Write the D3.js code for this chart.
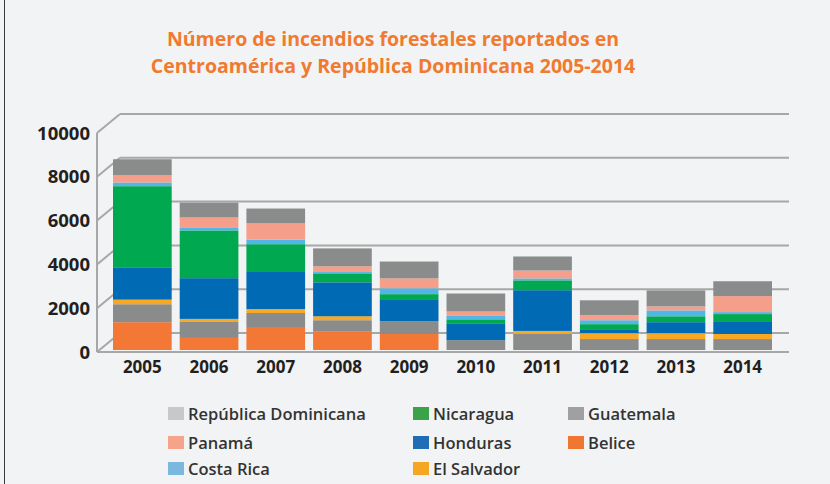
<!DOCTYPE html>
<html>
<head>
<meta charset="utf-8">
<script src="https://cdn.jsdelivr.net/npm/d3@7"></script>
<style>
	body { margin: 0; background: #f2f3f5; }
	svg { display: block; }
</style>
</head>
<body>
<div id="chart-area"></div>
<script>

// data (stack order bottom -> top)
let years = ["2005", "2006", "2007", "2008", "2009", "2010", "2011", "2012", "2013", "2014"];

let belice      = [1270, 550, 1050, 860, 730, 0, 0, 0, 0, 0];
let guatemala   = [820, 730, 640, 500, 590, 450, 730, 500, 500, 500];
let elSalvador  = [210, 140, 180, 180, 0, 0, 140, 270, 270, 230];
let honduras    = [1450, 1860, 1730, 1550, 1000, 770, 1860, 180, 500, 550];
let nicaragua   = [3730, 2180, 1230, 410, 230, 180, 450, 230, 270, 360];
let costaRica   = [170, 140, 210, 60, 270, 180, 90, 180, 270, 90];
let panama      = [330, 450, 740, 260, 450, 180, 360, 230, 180, 730];
let repDom      = [730, 680, 680, 820, 770, 820, 640, 680, 730, 680];

let seriesNames = ["Belice", "Guatemala", "El Salvador", "Honduras", "Nicaragua", "Costa Rica", "Panamá", "República Dominicana"];
let seriesValues = [belice, guatemala, elSalvador, honduras, nicaragua, costaRica, panama, repDom];

let yTicks = [0, 2000, 4000, 6000, 8000, 10000];

// legend, read row by row
let legendNames = ["República Dominicana", "Nicaragua", "Guatemala", "Panamá", "Honduras", "Belice", "Costa Rica", "El Salvador"];

// colours
let barColors = {
	"Belice": "#f37735",
	"Guatemala": "#8a8c8c",
	"El Salvador": "#f9a823",
	"Honduras": "#006bb4",
	"Nicaragua": "#00a84f",
	"Costa Rica": "#52b6e5",
	"Panamá": "#f59f8a",
	"República Dominicana": "#8a8c8c"
};
let legendColors = {
	"República Dominicana": "#c8c8ca",
	"Nicaragua": "#3aa34a",
	"Guatemala": "#a0a0a3",
	"Panamá": "#f7a38a",
	"Honduras": "#1f6db5",
	"Belice": "#f07732",
	"Costa Rica": "#7ab8e0",
	"El Salvador": "#f5a623"
};

let W = 830, H = 484;

let svg = d3.select("#chart-area").append("svg")
	.attr("width", W)
	.attr("height", H)
	.style("font-family", "'Open Sans', 'Noto Sans', sans-serif");

svg.append("rect")
	.attr("width", W).attr("height", H)
	.attr("fill", "#f2f3f5");

// left frame line
svg.append("line")
	.attr("x1", 4.5).attr("x2", 4.5)
	.attr("y1", 0).attr("y2", H)
	.attr("stroke", "#3a3a3a").attr("stroke-width", 1);

// title
let title = svg.append("text")
	.attr("text-anchor", "middle")
	.attr("fill", "#f07a2e")
	.attr("font-weight", 700)
	.attr("font-size", 19.5);
title.append("tspan").attr("x", 393).attr("y", 46).text("Número de incendios forestales reportados en");
title.append("tspan").attr("x", 393).attr("y", 73).text("Centroamérica y República Dominicana 2005-2014");

// scales
let axisX = 97, wallRight = 789;
let depthX = 23, depthY = -19;

let y = d3.scaleLinear()
	.domain([0, 10000])
	.range([352, 133]);

let x = d3.scaleBand()
	.domain(years)
	.range([113, 772])
	.paddingInner(0.12)
	.paddingOuter(0);

let gridColor = "#a7a7a7";

// back wall gridlines
svg.selectAll(".grid")
	.data(yTicks)
	.enter().append("line")
	.attr("class", "grid")
	.attr("x1", axisX + depthX).attr("x2", wallRight)
	.attr("y1", d => y(d) + depthY).attr("y2", d => y(d) + depthY)
	.attr("stroke", gridColor).attr("stroke-width", 2);

// depth ticks from front axis to the wall
svg.selectAll(".diag")
	.data(yTicks)
	.enter().append("line")
	.attr("class", "diag")
	.attr("x1", axisX).attr("y1", d => y(d))
	.attr("x2", axisX + depthX).attr("y2", d => y(d) + depthY)
	.attr("stroke", gridColor).attr("stroke-width", 2);

// front axis + floor
svg.append("line")
	.attr("x1", axisX).attr("x2", axisX)
	.attr("y1", y(0)).attr("y2", y(10000))
	.attr("stroke", gridColor).attr("stroke-width", 2);
svg.append("line")
	.attr("x1", axisX).attr("x2", wallRight)
	.attr("y1", y(0)).attr("y2", y(0))
	.attr("stroke", gridColor).attr("stroke-width", 2);

// stacked bars
let table = years.map(function(yr, i) {
	let row = {year: yr};
	seriesNames.forEach(function(s, j) { row[s] = seriesValues[j][i]; });
	return row;
});
let stacked = d3.stack().keys(seriesNames)(table);

let barShift = -2; // bars sit a little behind the front edge

svg.selectAll(".layer")
	.data(stacked)
	.enter().append("g")
	.attr("class", "layer")
	.attr("fill", d => barColors[d.key])
	.selectAll("rect")
	.data(d => d)
	.enter().append("rect")
	.attr("x", d => x(d.data.year))
	.attr("width", x.bandwidth())
	.attr("y", d => y(d[1]) + barShift)
	.attr("height", d => y(d[0]) - y(d[1]));

// y labels
svg.selectAll(".ylab")
	.data(yTicks)
	.enter().append("text")
	.attr("class", "ylab")
	.attr("x", 90)
	.attr("y", d => y(d))
	.attr("dy", "0.36em")
	.attr("text-anchor", "end")
	.attr("font-weight", 700)
	.attr("font-size", 18.5)
	.attr("fill", "#231f20")
	.text(d => d);

// x labels
svg.selectAll(".xlab")
	.data(years)
	.enter().append("text")
	.attr("class", "xlab")
	.attr("x", d => x(d) + x.bandwidth() / 2)
	.attr("y", 373)
	.attr("text-anchor", "middle")
	.attr("font-weight", 700)
	.attr("font-size", 17)
	.attr("fill", "#231f20")
	.text(d => d);

// legend
let legColX = [168, 413, 568];
let legRowY = [407, 436, 462];

let leg = svg.selectAll(".leg")
	.data(legendNames)
	.enter().append("g")
	.attr("class", "leg")
	.attr("transform", (d, i) => "translate(" + legColX[i % 3] + "," + legRowY[Math.floor(i / 3)] + ")");

leg.append("rect")
	.attr("width", 16).attr("height", 13)
	.attr("fill", d => legendColors[d]);

leg.append("text")
	.attr("x", 20)
	.attr("y", 12.5)
	.attr("font-weight", 600)
	.attr("font-size", 16.5)
	.attr("fill", "#333333")
	.text(d => d);

</script>
</body>
</html>
